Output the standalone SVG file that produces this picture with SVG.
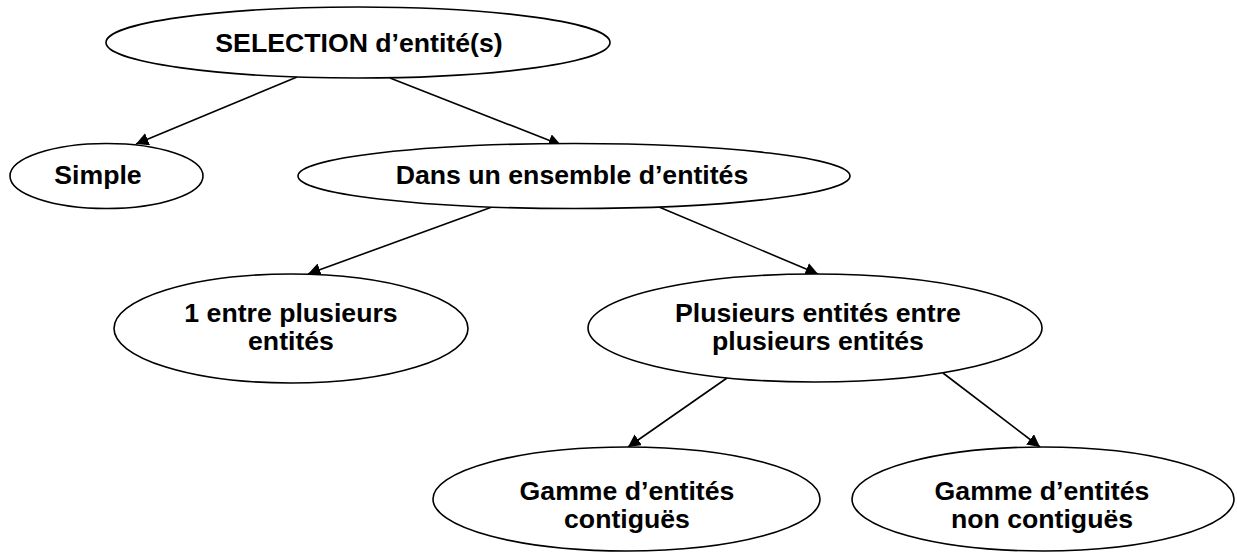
<svg xmlns="http://www.w3.org/2000/svg" width="1237" height="553" viewBox="0 0 1237 553">
<style>
.node ellipse{fill:#fff;stroke:#000;stroke-width:1.6}
.node text{font-family:"Liberation Sans",Arial,sans-serif;font-weight:bold;font-size:26.67px;fill:#000;text-anchor:middle}
.edges line{stroke:#000;stroke-width:1.6;marker-end:url(#arr)}
</style>
<defs>
<marker id="arr" markerUnits="userSpaceOnUse" markerWidth="14" markerHeight="14" refX="12.5" refY="6.5" orient="auto">
<path d="M0,0 L12.5,6.5 L0,13 z" fill="#000"/>
</marker>
</defs>
<rect width="1237" height="553" fill="#fff"/>
<g class="edges" id="connectors">
<line x1="297" y1="77" x2="136" y2="144"/>
<line x1="390" y1="78" x2="561" y2="145"/>
<line x1="492" y1="207" x2="308" y2="274"/>
<line x1="659" y1="207" x2="818" y2="274"/>
<line x1="727" y1="378" x2="628" y2="447"/>
<line x1="943" y1="373" x2="1040" y2="447"/>
</g>
<g class="node" id="n-selection">
<ellipse cx="358" cy="42.5" rx="252" ry="35.5"/>
<text x="359" y="52">SELECTION d’entité(s)</text>
</g>
<g class="node" id="n-simple">
<ellipse cx="106.5" cy="176" rx="96.5" ry="32.5"/>
<text x="98" y="184">Simple</text>
</g>
<g class="node" id="n-dans">
<ellipse cx="574" cy="176" rx="276" ry="32.5"/>
<text x="572" y="184">Dans un ensemble d’entités</text>
</g>
<g class="node" id="n-un">
<ellipse cx="291" cy="328.5" rx="177" ry="54.5"/>
<text x="291" y="321.5">1 entre plusieurs</text>
<text x="291" y="350">entités</text>
</g>
<g class="node" id="n-plusieurs">
<ellipse cx="815" cy="328" rx="227" ry="54"/>
<text x="818" y="321.5">Plusieurs entités entre</text>
<text x="818" y="350">plusieurs entités</text>
</g>
<g class="node" id="n-contigues">
<ellipse cx="626.5" cy="499" rx="193.5" ry="52"/>
<text x="627" y="500">Gamme d’entités</text>
<text x="627" y="528">contiguës</text>
</g>
<g class="node" id="n-noncontigues">
<ellipse cx="1043" cy="499" rx="191" ry="52"/>
<text x="1042" y="500">Gamme d’entités</text>
<text x="1042" y="528">non contiguës</text>
</g>
</svg>
